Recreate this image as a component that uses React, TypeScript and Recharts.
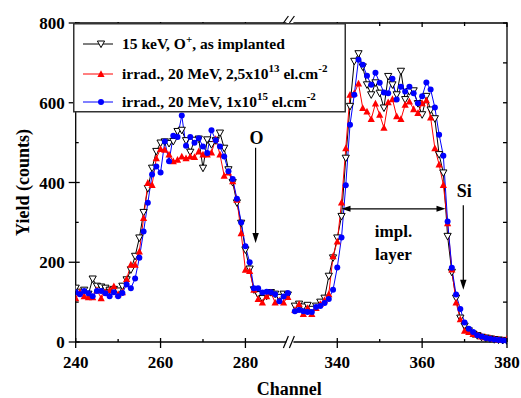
import { LineChart, Line, XAxis, YAxis, ReferenceLine, Legend, Label } from "recharts";

const FONT = '"Liberation Serif", "Times New Roman", serif';

// the axis skips channels 290..330, so the right part is shifted left by this much
const SHIFT = 38.35;
const BREAK_AT = 290.6;
const X_MIN = 240;
const X_MAX = 341.65;

const leftChannels = [
  240, 241, 242, 243, 244, 245, 246, 247, 248, 249, 250, 251, 252, 253, 254, 255, 256,
  257, 258, 259, 260, 261, 262, 263, 264, 265, 266, 267, 268, 269, 270, 271, 272, 273,
  274, 275, 276, 277, 278, 279, 280, 281, 282, 283, 284, 285, 286, 287, 288, 289, 290,
];
const rightChannels = [
  330, 331, 332, 333, 334, 335, 336, 337, 338, 339, 340, 341, 342, 343, 344, 345, 346,
  347, 348, 349, 350, 351, 352, 353, 354, 355, 356, 357, 358, 359, 360, 361, 362, 363,
  364, 365, 366, 367, 368, 369, 370, 371, 372, 373, 374, 375, 376, 377, 378, 379, 380,
];

// 15 keV O+, as implanted
const implantedLeft = [
  135, 125, 130, 120, 158, 140, 138, 135, 130, 132, 128, 140, 156, 181, 215, 261, 325,
  385, 436, 478, 499, 502, 498, 503, 528, 531, 505, 476, 506, 509, 436, 507, 495, 505,
  524, 486, 432, 400, 349, 298, 231, 183, 131, 119, 109, 115, 124, 120, 112, 120, 118,
];
const implantedRight = [
  90, 95, 88, 92, 82, 90, 100, 110, 165, 211, 261, 315, 461, 591, 704, 723, 690,
  645, 620, 650, 624, 587, 666, 645, 620, 679, 608, 628, 630, 598, 570, 616, 582, 560,
  470, 424, 265, 175, 110, 60, 40, 28, 20, 16, 12, 10, 8, 6, 5, 4, 3,
];

// irrad. 20 MeV, 2,5x10^13 el.cm^-2
const lowDoseLeft = [
  110, 125, 115, 112, 112, 130, 110, 125, 130, 140, 120, 125, 158, 194, 194, 227, 311,
  399, 394, 461, 484, 482, 470, 453, 457, 465, 461, 465, 464, 478, 470, 470, 475, 509,
  470, 417, 425, 403, 357, 273, 181, 178, 131, 108, 99, 115, 124, 99, 104, 99, 113,
];
const lowDoseRight = [
  80, 95, 70, 85, 70, 85, 95, 105, 120, 215, 252, 350, 486, 620, 624, 648, 587,
  578, 559, 598, 570, 537, 601, 609, 566, 559, 595, 603, 584, 574, 599, 606, 563, 486,
  445, 394, 298, 182, 99, 57, 28, 25, 20, 18, 14, 12, 10, 8, 6, 5, 8,
];

// irrad. 20 MeV, 1x10^15 el.cm^-2
const highDoseLeft = [
  125, 120, 128, 122, 115, 128, 128, 122, 115, 125, 115, 123, 144, 135, 159, 211, 277,
  349, 420, 440, 425, 503, 453, 517, 514, 568, 492, 514, 500, 511, 490, 474, 531, 506,
  490, 465, 428, 409, 359, 300, 240, 200, 135, 135, 124, 126, 125, 120, 102, 114, 123,
];
const highDoseRight = [
  77, 80, 77, 75, 75, 88, 90, 98, 108, 131, 187, 262, 393, 545, 620, 708, 695,
  668, 645, 675, 650, 626, 624, 660, 608, 640, 628, 640, 624, 599, 616, 651, 633, 588,
  520, 467, 302, 186, 119, 83, 49, 33, 25, 17, 14, 10, 8, 6, 5, 4, 3,
];

const xMajor = [240, 260, 280, 340, 360, 380];
const xMinor = [250, 270, 350, 370];
const yTicks = [0, 100, 200, 300, 400, 500, 600, 700, 800];

const toAxis = (ch: number) => (ch > BREAK_AT ? ch - SHIFT : ch);

const data = [
  ...leftChannels.map((ch, i) => ({
    u: ch,
    implanted: implantedLeft[i],
    low: lowDoseLeft[i],
    high: highDoseLeft[i],
  })),
  { u: BREAK_AT, implanted: null, low: null, high: null },
  ...rightChannels.map((ch, i) => ({
    u: ch - SHIFT,
    implanted: implantedRight[i],
    low: lowDoseRight[i],
    high: highDoseRight[i],
  })),
];

const xTicks = [...xMajor, ...xMinor].map(toAxis).concat(BREAK_AT).sort((a, b) => a - b);
const isMajorX = (u: number) => xMajor.some((c) => Math.abs(toAxis(c) - u) < 0.01);
const isBreak = (u: number) => Math.abs(u - BREAK_AT) < 0.01;
const realChannel = (u: number) => Math.round(u > 290.5 ? u + SHIFT : u);

const BreakMark = ({ x, y, up }: { x: number; y: number; up?: boolean }) => {
  const lo = up ? y : y + 6;
  const hi = up ? y - 7 : y - 6;
  return (
    <g>
      <rect x={x - 4} y={y - 2} width={7} height={4} fill="#fff" />
      <line x1={x - 7} y1={lo} x2={x - 2} y2={hi} stroke="#000" strokeWidth={1.2} />
      <line x1={x - 1} y1={lo} x2={x + 4} y2={hi} stroke="#000" strokeWidth={1.2} />
    </g>
  );
};

const BottomTick = (props: any) => {
  const { x, y, payload } = props;
  const u = payload.value;
  if (isBreak(u)) return <BreakMark x={x} y={y} />;
  const major = isMajorX(u);
  return (
    <g>
      <line x1={x} x2={x} y1={major ? y - 4 : y - 3} y2={major ? y + 6 : y} stroke="#000" strokeWidth={1.3} />
      {major && (
        <text x={x} y={y + 26} textAnchor="middle" fontFamily={FONT} fontWeight="bold" fontSize={17} fill="#000">
          {realChannel(u)}
        </text>
      )}
    </g>
  );
};

const LeftTick = (props: any) => {
  const { x, y, payload } = props;
  const major = payload.value % 200 === 0;
  return (
    <g>
      <line x1={major ? x - 7 : x} x2={x + (major ? 4 : 3)} y1={y} y2={y} stroke="#000" strokeWidth={1.3} />
      {major && (
        <text x={x - 11} y={y + 6} textAnchor="end" fontFamily={FONT} fontWeight="bold" fontSize={17} fill="#000">
          {payload.value}
        </text>
      )}
    </g>
  );
};

// top edge of the frame, with inward ticks at the same channels as the bottom axis
const TopFrame = (p: any) => {
  const left = Math.min(p.x1, p.x2);
  const right = Math.max(p.x1, p.x2);
  const y = p.y1;
  const at = (u: number) => left + ((u - X_MIN) / (X_MAX - X_MIN)) * (right - left);
  return (
    <g>
      <line x1={left} x2={right} y1={y} y2={y} stroke="#000" strokeWidth={1.3} />
      {xTicks.map((u) =>
        isBreak(u) ? (
          <BreakMark key={u} x={at(u)} y={y} up />
        ) : (
          <line key={u} x1={at(u)} x2={at(u)} y1={y - 1} y2={y + (isMajorX(u) ? 4 : 3)} stroke="#000" strokeWidth={1.3} />
        ),
      )}
    </g>
  );
};

// right edge of the frame, with inward ticks every 100 counts
const RightFrame = (p: any) => {
  const top = Math.min(p.y1, p.y2);
  const bottom = Math.max(p.y1, p.y2);
  const x = p.x1;
  const at = (v: number) => bottom - (v / 800) * (bottom - top);
  return (
    <g>
      <line x1={x} x2={x} y1={top} y2={bottom} stroke="#000" strokeWidth={1.3} />
      {yTicks.map((v) => (
        <line key={v} x1={x - 4} x2={x} y1={at(v)} y2={at(v)} stroke="#000" strokeWidth={1.3} />
      ))}
    </g>
  );
};

const DownTriangle = (p: any) => {
  if (p.cx == null || p.cy == null || p.value == null) return <g key={p.key} />;
  const { cx, cy } = p;
  return (
    <path key={p.key} d={`M${cx - 3.6},${cy - 3} L${cx + 3.6},${cy - 3} L${cx},${cy + 3.6} Z`}
      fill="#fff" stroke="#000" strokeWidth={1} />
  );
};

const UpTriangle = (p: any) => {
  if (p.cx == null || p.cy == null || p.value == null) return <g key={p.key} />;
  const { cx, cy } = p;
  return <path key={p.key} d={`M${cx - 3.6},${cy + 3} L${cx + 3.6},${cy + 3} L${cx},${cy - 3.8} Z`} fill="#ff0000" />;
};

const Circle = (p: any) => {
  if (p.cx == null || p.cy == null || p.value == null) return <g key={p.key} />;
  return <circle key={p.key} cx={p.cx} cy={p.cy} r={3} fill="#0000ff" />;
};

const LegendBox = () => {
  const rows = [
    { y: 21, color: "#000", mark: <path d="M24.4,-3 L31.6,-3 L28,3.6 Z" fill="#fff" stroke="#000" strokeWidth={1} /> },
    { y: 51, color: "#ff0000", mark: <path d="M24.4,3 L31.6,3 L28,-3.8 Z" fill="#ff0000" /> },
    { y: 79, color: "#0000ff", mark: <circle cx={28} cy={0} r={3} fill="#0000ff" /> },
  ];
  const txt = { fontFamily: FONT, fontWeight: "bold" as const, fontSize: 15.5, fill: "#000" };
  return (
    <svg width={273} height={90} style={{ display: "block" }}>
      <rect x={0.75} y={0.75} width={271.5} height={88} fill="#fff" stroke="#333" strokeWidth={1.5} />
      {rows.map((r, i) => (
        <g key={i} transform={`translate(0,${r.y})`}>
          <line x1={10} x2={40} y1={0} y2={0} stroke={r.color} strokeWidth={1} />
          {r.mark}
        </g>
      ))}
      <text x={49} y={26} {...txt}>
        15 keV, O<tspan dy={-6} fontSize={11}>+</tspan>
        <tspan dy={6}>, as implanted</tspan>
      </text>
      <text x={49} y={56} {...txt}>
        irrad., 20 MeV, 2,5x10<tspan dy={-7} fontSize={11}>13</tspan>
        <tspan dy={7}> el.cm</tspan>
        <tspan dy={-7} fontSize={11}>-2</tspan>
      </text>
      <text x={49} y={84} {...txt}>
        irrad., 20 MeV, 1x10<tspan dy={-7} fontSize={11}>15</tspan>
        <tspan dy={7}> el.cm</tspan>
        <tspan dy={-7} fontSize={11}>-2</tspan>
      </text>
    </svg>
  );
};

const downArrow = (label: string, gap: number) => (p: any) => {
  const { x1, y1, x2, y2 } = p;
  return (
    <g>
      <line x1={x1} y1={y1} x2={x2} y2={y2 - 8} stroke="#000" strokeWidth={1.2} />
      <path d={`M${x2 - 3.2},${y2 - 10} L${x2 + 3.2},${y2 - 10} L${x2},${y2} Z`} fill="#000" />
      <text x={x1 + 1} y={y1 - gap} textAnchor="middle" fontFamily={FONT} fontWeight="bold" fontSize={18} fill="#000">
        {label}
      </text>
    </g>
  );
};

const spanArrow = (p: any) => {
  const { x1, y1, x2 } = p;
  const cx = (x1 + x2) / 2;
  const txt = { fontFamily: FONT, fontWeight: "bold" as const, fontSize: 17, fill: "#000", textAnchor: "middle" as const };
  return (
    <g>
      <line x1={x1 + 6} y1={y1} x2={x2 - 6} y2={y1} stroke="#000" strokeWidth={1.2} />
      <path d={`M${x1},${y1} L${x1 + 9},${y1 - 3} L${x1 + 9},${y1 + 3} Z`} fill="#000" />
      <path d={`M${x2},${y1} L${x2 - 9},${y1 - 3} L${x2 - 9},${y1 + 3} Z`} fill="#000" />
      <text x={cx} y={y1 + 28} {...txt}>impl.</text>
      <text x={cx} y={y1 + 51} {...txt}>layer</text>
    </g>
  );
};

const App = () => {
  return (
    <div style={{ position: "absolute", left: 0, top: 0 }}>
      <LineChart width={521} height={398} data={data} margin={{ top: 23, right: 14, bottom: 0, left: 0 }}>
        <XAxis dataKey="u" type="number" domain={[X_MIN, X_MAX]} ticks={xTicks} interval={0}
          tickSize={0} tickMargin={0} tick={BottomTick} height={56} stroke="#000" strokeWidth={1.3}
          allowDataOverflow>
          <Label content={(p: any) => (
            <text x={p.viewBox.x + p.viewBox.width / 2 - 2} y={p.viewBox.y + 53} textAnchor="middle"
              fontFamily={FONT} fontWeight="bold" fontSize={18} fill="#000">Channel</text>
          )} />
        </XAxis>
        <YAxis type="number" domain={[0, 800]} ticks={yTicks} interval={0} tickSize={0} tickMargin={0}
          tick={LeftTick} width={75.7} stroke="#000" strokeWidth={1.3}>
          <Label content={(p: any) => (
            <text transform={`translate(${p.viewBox.x + 29},${p.viewBox.y + p.viewBox.height / 2}) rotate(-90)`}
              textAnchor="middle" fontFamily={FONT} fontWeight="bold" fontSize={18} fill="#000">Yield (counts)</text>
          )} />
        </YAxis>
        <ReferenceLine y={800} shape={TopFrame} />
        <ReferenceLine x={X_MAX} shape={RightFrame} />
        <Line dataKey="implanted" stroke="#000" strokeWidth={1} dot={DownTriangle} activeDot={false}
          isAnimationActive={false} />
        <Line dataKey="low" stroke="#ff0000" strokeWidth={1} dot={UpTriangle} activeDot={false}
          isAnimationActive={false} />
        <Line dataKey="high" stroke="#0000ff" strokeWidth={1} dot={Circle} activeDot={false}
          isAnimationActive={false} />
        <ReferenceLine segment={[{ x: 282.4, y: 487 }, { x: 282.4, y: 248 }]} shape={downArrow("O", 4)} />
        <ReferenceLine segment={[{ x: toAxis(369.7), y: 343 }, { x: toAxis(369.7), y: 131 }]} shape={downArrow("Si", 8)} />
        <ReferenceLine segment={[{ x: toAxis(341.0), y: 334 }, { x: toAxis(365.5), y: 334 }]} shape={spanArrow} />
        <Legend layout="vertical" align="center" verticalAlign="middle" content={LegendBox}
          wrapperStyle={{ position: "absolute", left: 73, top: 22.5, width: 273, height: 90 }} />
      </LineChart>
    </div>
  );
};

export default App;
